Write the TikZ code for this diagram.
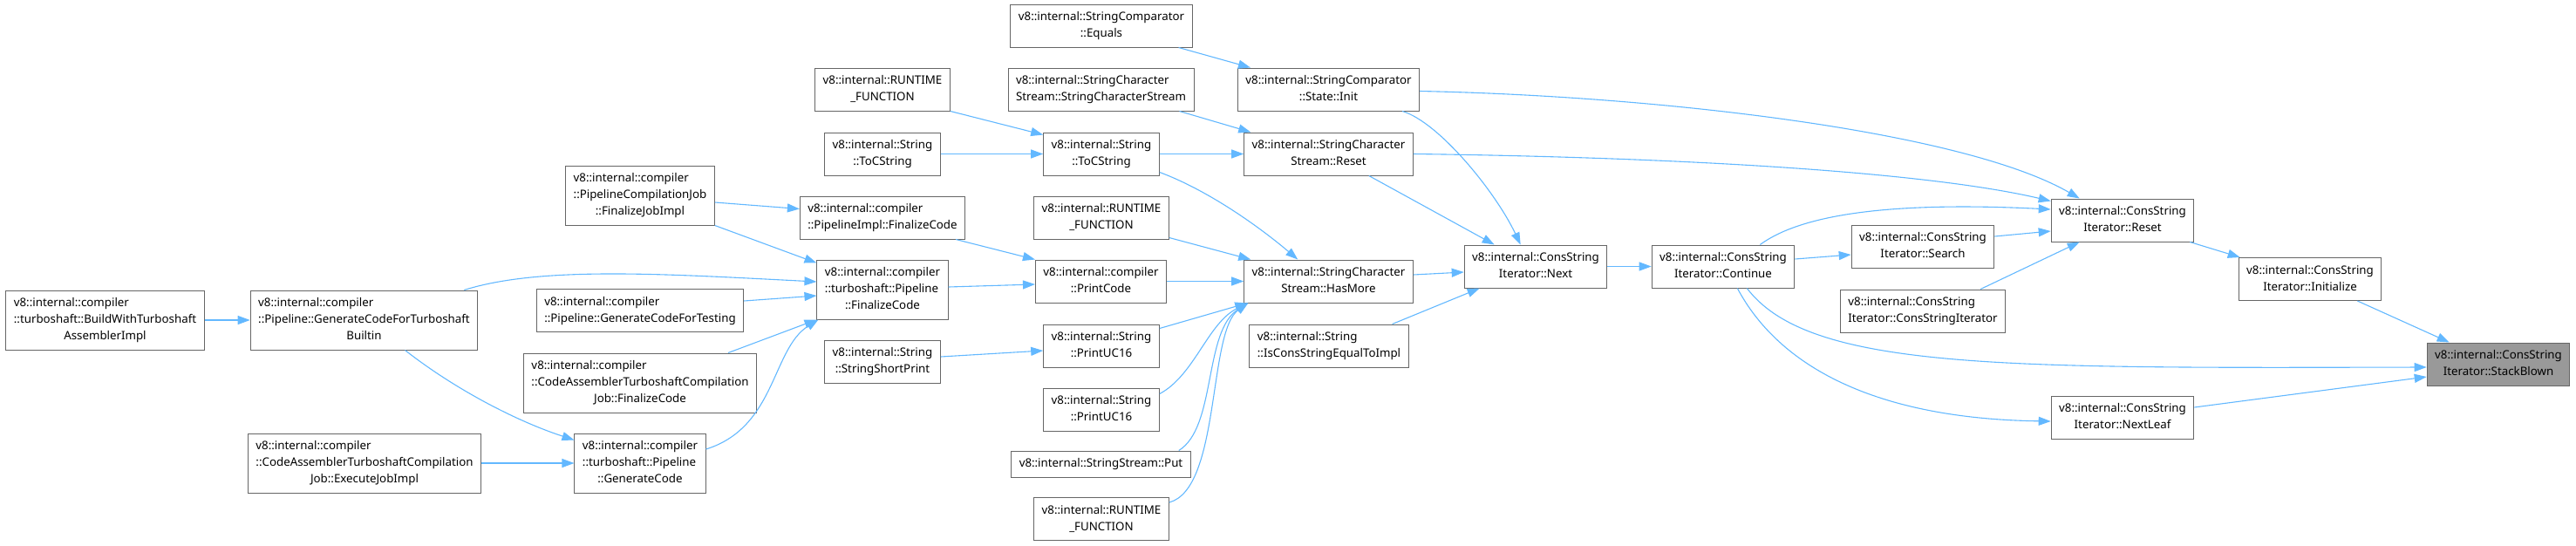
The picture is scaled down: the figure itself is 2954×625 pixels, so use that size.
\documentclass[tikz,border=0pt]{standalone}
\usepackage{fontspec}
\setmainfont{Noto Sans}
\usepackage{tikz}
\usetikzlibrary{arrows.meta}
\definecolor{nodeframe}{RGB}{102,102,102}
\definecolor{nodehl}{RGB}{153,153,153}
\definecolor{callblue}{RGB}{99,184,255}
% all lines but the last flush left, the last one centred
\newcommand{\fnl}[2]{\begin{tabular}{@{}l@{}}#1\\\multicolumn{1}{@{}c@{}}{#2}\end{tabular}}
\newcommand{\fnone}[1]{\begin{tabular}{@{}c@{}}#1\end{tabular}}
\tikzset{
  fn/.style={draw=nodeframe, fill=white, line width=1pt, inner xsep=9pt,
    inner ysep=5.5pt, font=\fontsize{13.3}{19}\selectfont},
  fnhl/.style={fn, fill=nodehl},
  call/.style={-{Triangle[length=14pt,width=10pt]}, line width=1.1pt, draw=callblue},
}

\begin{document}
\begin{tikzpicture}[x=1pt,y=-1pt]
  \useasboundingbox (0,0) rectangle (2954,625);
  \node[fn] (bwt) at (120.5,367) {\fnl{v8::internal::compiler\\::turboshaft::BuildWithTurboshaft}{AssemblerImpl}};
  \node[fn] (gctb) at (417.5,367) {\fnl{v8::internal::compiler\\::Pipeline::GenerateCodeForTurboshaft}{Builtin}};
  \node[fn] (exji) at (418,531) {\fnl{v8::internal::compiler\\::CodeAssemblerTurboshaftCompilation}{Job::ExecuteJobImpl}};
  \node[fn] (fji) at (734,224) {\fnl{v8::internal::compiler\\::PipelineCompilationJob}{::FinalizeJobImpl}};
  \node[fn] (gcft) at (734,356) {\fnl{v8::internal::compiler}{::Pipeline::GenerateCodeForTesting}};
  \node[fn] (cafc) at (734,439) {\fnl{v8::internal::compiler\\::CodeAssemblerTurboshaftCompilation}{Job::FinalizeCode}};
  \node[fn] (tpgc) at (734,531) {\fnl{v8::internal::compiler\\::turboshaft::Pipeline}{::GenerateCode}};
  \node[fn] (rf1) at (1012,102.5) {\fnl{v8::internal::RUNTIME}{\_FUNCTION}};
  \node[fn] (tocs1) at (1012,176.5) {\fnl{v8::internal::String}{::ToCString}};
  \node[fn] (pifc) at (1012,249.5) {\fnl{v8::internal::compiler}{::PipelineImpl::FinalizeCode}};
  \node[fn] (tpfc) at (1012,332) {\fnl{v8::internal::compiler\\::turboshaft::Pipeline}{::FinalizeCode}};
  \node[fn] (ssp) at (1012,414.5) {\fnl{v8::internal::String}{::StringShortPrint}};
  \node[fn] (eq) at (1263,29.5) {\fnl{v8::internal::StringComparator}{::Equals}};
  \node[fn] (scsc) at (1262.5,102.5) {\fnl{v8::internal::StringCharacter}{Stream::StringCharacterStream}};
  \node[fn] (tocs2) at (1263,176.5) {\fnl{v8::internal::String}{::ToCString}};
  \node[fn] (rf2) at (1263,249.5) {\fnl{v8::internal::RUNTIME}{\_FUNCTION}};
  \node[fn] (pc) at (1262.5,322.5) {\fnl{v8::internal::compiler}{::PrintCode}};
  \node[fn] (puc1) at (1263,396.5) {\fnl{v8::internal::String}{::PrintUC16}};
  \node[fn] (puc2) at (1263,469.5) {\fnl{v8::internal::String}{::PrintUC16}};
  \node[fn] (ssput) at (1262.5,532) {\fnone{v8::internal::StringStream::Put}};
  \node[fn] (rf3) at (1263,595) {\fnl{v8::internal::RUNTIME}{\_FUNCTION}};
  \node[fn] (sci) at (1523.5,102.5) {\fnl{v8::internal::StringComparator}{::State::Init}};
  \node[fn] (scsr) at (1523.5,176.5) {\fnl{v8::internal::StringCharacter}{Stream::Reset}};
  \node[fn] (hm) at (1523.5,322.5) {\fnl{v8::internal::StringCharacter}{Stream::HasMore}};
  \node[fn] (icse) at (1524,396.5) {\fnl{v8::internal::String}{::IsConsStringEqualToImpl}};
  \node[fn] (nx) at (1761,305.5) {\fnl{v8::internal::ConsString}{Iterator::Next}};
  \node[fn] (cont) at (1976,305.5) {\fnl{v8::internal::ConsString}{Iterator::Continue}};
  \node[fn] (srch) at (2205,282.5) {\fnl{v8::internal::ConsString}{Iterator::Search}};
  \node[fn] (csic) at (2205,356.5) {\fnl{v8::internal::ConsString}{Iterator::ConsStringIterator}};
  \node[fn] (rst) at (2434,252.5) {\fnl{v8::internal::ConsString}{Iterator::Reset}};
  \node[fn] (nl) at (2434,478.5) {\fnl{v8::internal::ConsString}{Iterator::NextLeaf}};
  \node[fn] (init) at (2649,320) {\fnl{v8::internal::ConsString}{Iterator::Initialize}};
  \node[fnhl] (sb) at (2865,417.5) {\fnl{v8::internal::ConsString}{Iterator::StackBlown}};

  \draw[call] (bwt.east) -- (gctb.west);
  \draw[call] ([xshift=-16pt]gctb.north east) .. controls (620,305) and (760,314) .. ([yshift=9pt]tpfc.west);
  \draw[call] ([xshift=47pt]gctb.south) .. controls (520,445) and (590,482) .. ([yshift=-8pt]tpgc.north west);
  \draw[call] (exji.east) -- (tpgc.west);
  \draw[call] ([yshift=-8pt]fji.east) -- ([yshift=10pt]pifc.west);
  \draw[call] (fji.south east) -- ([yshift=-4pt]tpfc.north west);
  \draw[call] ([xshift=-11pt]pifc.south east) -- (pc.north west);
  \draw[call] ([yshift=11pt]gcft.east) -- ([yshift=-7pt]tpfc.west);
  \draw[call] ([xshift=-33pt]cafc.north east) -- (tpfc.south west);
  \draw[call] ([yshift=16pt]tpgc.east) .. controls (890,490) and (885,400) .. ([xshift=2pt]tpfc.south west);
  \draw[call] ([yshift=3pt]tpfc.east) -- ([yshift=-3.5pt]pc.west);
  \draw[call] ([yshift=5.5pt]ssp.east) -- ([yshift=-5.5pt]puc1.west);
  \draw[call] (tocs1.east) -- (tocs2.west);
  \draw[call] (rf1.south east) -- ([yshift=-3pt]tocs2.north west);
  \draw[call] (tocs2.east) -- (scsr.west);
  \draw[call] ([yshift=4pt]tocs2.south east) .. controls (1390,220) and (1450,265) .. ([xshift=62pt]hm.north west);
  \draw[call] ([xshift=-17pt]scsc.south east) -- ([xshift=8pt]scsr.north west);
  \draw[call] ([xshift=-16pt]eq.south east) -- ([xshift=15pt]sci.north west);
  \draw[call] ([yshift=2pt]rf2.south east) -- ([xshift=8pt]hm.north west);
  \draw[call] (pc.east) -- (hm.west);
  \draw[call] ([yshift=-5pt]puc1.north east) -- ([xshift=4pt]hm.south west);
  \draw[call] ([yshift=-7pt]puc2.north east) .. controls (1370,430) and (1385,370) .. ([xshift=5pt]hm.south west);
  \draw[call] ([xshift=-14pt]ssput.north east) .. controls (1395,490) and (1380,380) .. ([xshift=5pt]hm.south west);
  \draw[call] ([yshift=-6pt]rf3.north east) .. controls (1400,560) and (1385,380) .. ([xshift=5pt]hm.south west);
  \draw[call] ([yshift=7.5pt]hm.east) -- ([yshift=-6.5pt]nx.west);
  \draw[call] ([xshift=-19pt]icse.north east) -- ([xshift=18pt]nx.south west);
  \draw[call] ([xshift=-20pt]sci.south east) .. controls (1650,140) and (1715,220) .. ([xshift=65pt]nx.north west);
  \draw[call] ([xshift=-51pt]scsr.south east) -- ([xshift=35pt]nx.north west);
  \draw[call] (nx.east) -- (cont.west);
  \draw[call] ([yshift=8.5pt]cont.east) -- ([yshift=-9.5pt]srch.west);
  \draw[call] ([yshift=11.5pt]srch.east) -- ([yshift=-12.5pt]rst.west);
  \draw[call] ([yshift=-2pt]sci.east) .. controls (1900,110) and (2250,150) .. ([xshift=33pt]rst.north west);
  \draw[call] (scsr.east) .. controls (1900,180) and (2200,195) .. ([yshift=-3pt]rst.north west);
  \draw[call] ([xshift=-40pt]cont.north east) .. controls (2060,250) and (2150,230) .. ([yshift=12.5pt]rst.west);
  \draw[call] ([xshift=-29pt]csic.north east) -- ([xshift=33pt]rst.south west);
  \draw[call] ([xshift=-5pt]rst.south east) -- ([xshift=2pt]init.north west);
  \draw[call] ([xshift=-28pt]init.south east) -- ([xshift=26pt]sb.north west);
  \draw[call] ([xshift=-55pt]cont.south east) .. controls (2075,425) and (2300,422) .. ([yshift=-3.5pt]sb.west);
  \draw[call] ([xshift=-66pt]cont.south east) .. controls (2040,420) and (2150,480) .. ([yshift=-4.5pt]nl.west);
  \draw[call] ([yshift=11.5pt]nl.east) -- ([yshift=-14.5pt]sb.west);
\end{tikzpicture}
\end{document}
